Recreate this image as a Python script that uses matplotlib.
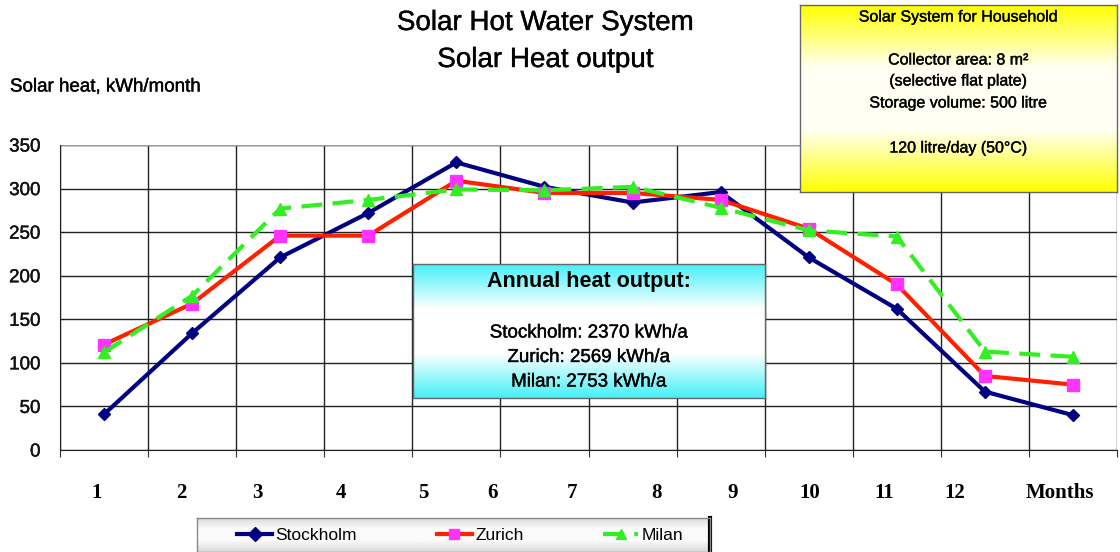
import numpy as np
import matplotlib
matplotlib.use("Agg")
import matplotlib.pyplot as plt
import matplotlib.patheffects as pe
from matplotlib.colors import LinearSegmentedColormap

# ---------------- data ----------------
months = list(range(1, 13))
stockholm = [41, 134, 221, 272, 330, 302, 284, 296, 221, 162, 67, 40]
zurich = [121, 168, 246, 246, 309, 295, 295, 287, 254, 190, 85, 75]
milan = [112, 177, 277, 287, 299, 298, 302, 278, 252, 245, 113, 107]
month_labels = ["1", "2", "3", "4", "5", "6", "7", "8", "9", "10", "11", "12", "Months"]
yticks = [0, 50, 100, 150, 200, 250, 300, 350]
annual = {"Stockholm": 2370, "Zurich": 2569, "Milan": 2753}

# ---------------- layout ----------------
W, H = 1120, 552
fig = plt.figure(figsize=(W / 100, H / 100), dpi=100)
plt.rcParams['font.family'] = ['Liberation Sans', 'DejaVu Sans']
thick = [pe.withStroke(linewidth=0.3, foreground="#111111")]

def fx(px):
    return px / W

def fy(py):
    return 1 - py / H

# main axes
ax = fig.add_axes([fx(60), fy(450), fx(1117) - fx(60), fy(145) - fy(450)])
x = np.arange(len(months))
ax.plot(x, stockholm, color="#000080", lw=3, marker="D", ms=6, mfc="#000080",
        mec="#000080", label="Stockholm", zorder=3)
ax.plot(x, zurich, color="#FF2000", lw=3, marker="s", ms=9, mfc="#FF33FF",
        mec="#FF33FF", label="Zurich", zorder=4)
ax.plot(x, milan, color="#33EE22", lw=3, ls=(0, (5, 2.5)), marker="^", ms=9,
        mfc="#33EE22", mec="#33EE22", label="Milan", zorder=5)

ax.set_xlim(-0.5, len(months) - 0.5)
ax.set_ylim(0, 350)
ax.set_yticks(yticks)
ax.set_yticklabels([str(v) for v in yticks], fontsize=13.5, color="#111111")
for t in ax.get_yticklabels():
    t.set_path_effects(thick)
ax.set_xticks(np.arange(-0.5, len(months) + 0.5, 1))
ax.set_xticklabels([])
ax.tick_params(axis="x", length=5, color="#333333")
ax.tick_params(axis="y", length=0, pad=14)
ax.grid(True, color="#222222", lw=1.0)
ax.set_axisbelow(True)
for s in ["top", "right"]:
    ax.spines[s].set_visible(False)
ax.spines["left"].set_color("#222222")
ax.spines["bottom"].set_color("#222222")
ax.axhline(350, color="#999999", lw=1.0, zorder=1)

# x labels (text boxes placed like original)
label_px = [97, 181, 257, 341, 423, 493, 572, 657, 733, 810, 884, 955, 1060]
for lab, px in zip(month_labels, label_px):
    fig.text(fx(px), fy(493), lab, ha="center", va="center", fontsize=15,
             fontweight="bold", family="Liberation Serif")

# titles
fig.text(fx(545), fy(23), "Solar Hot Water System", ha="center", va="center",
         fontsize=20, path_effects=thick)
fig.text(fx(545), fy(60), "Solar Heat output", ha="center", va="center",
         fontsize=20, path_effects=thick)
fig.text(fx(10), fy(87), "Solar heat, kWh/month", ha="left", va="center",
         fontsize=13.5, path_effects=thick)


def grad_box(x0, y0, x1, y1, c_edge, c_mid, edgecolor="#666666"):
    bax = fig.add_axes([fx(x0), fy(y1), fx(x1) - fx(x0), fy(y0) - fy(y1)], zorder=10)
    cmap = LinearSegmentedColormap.from_list("g", [c_edge, c_mid, c_mid, c_edge])
    g = np.linspace(0, 1, 256).reshape(-1, 1)
    bax.imshow(g, cmap=cmap, aspect="auto", extent=[0, 1, 0, 1])
    bax.set_xlim(0, 1)
    bax.set_ylim(0, 1)
    bax.set_xticks([])
    bax.set_yticks([])
    for s in bax.spines.values():
        s.set_color(edgecolor)
        s.set_linewidth(1.0)
    return bax


# yellow info box
yb = grad_box(800, 5, 1117, 192, "#FFFF00", "#FFFFF4")
ybh = 192 - 5
def yy(py):
    return 1 - (py - 5) / ybh
cx = 0.5
yb.text(cx, yy(17), "Solar System for Household", ha="center", va="center",
        fontsize=11.5, path_effects=thick)
yb.text(cx, yy(60), "Collector area: 8 m²", ha="center", va="center", fontsize=11.5,
        path_effects=thick)
yb.text(cx, yy(81), "(selective flat plate)", ha="center", va="center", fontsize=11.5,
        path_effects=thick)
yb.text(cx, yy(103), "Storage volume: 500 litre", ha="center", va="center",
        fontsize=11.5, path_effects=thick)
yb.text(cx, yy(148), "120 litre/day (50°C)", ha="center", va="center", fontsize=11.5,
        path_effects=thick)

# cyan annual box
cb = grad_box(413, 264, 765, 398, "#44F0F8", "#FFFFFF")
cbh = 398 - 264
def cy(py):
    return 1 - (py - 264) / cbh
cb.text(0.5, cy(281), "Annual heat output:", ha="center", va="center", fontsize=15.5,
        fontweight="bold")
lines = [f"{k}: {v} kWh/a" for k, v in annual.items()]
for i, ln in enumerate(lines):
    cb.text(0.5, cy(333 + 24.5 * i), ln, ha="center", va="center", fontsize=13.5,
            path_effects=thick)

# legend box
lb = grad_box(197, 518, 710, 552, "#D8D8D8", "#FBFBFB", edgecolor="#888888")
lb.plot([1, 1], [0, 1], color="black", lw=3, transform=lb.transAxes, clip_on=False)
handles, labels = ax.get_legend_handles_labels()
leg = lb.legend(handles, labels, loc="center", ncol=3, frameon=False, fontsize=12.5,
                columnspacing=4.6, handlelength=2.0, handletextpad=0.2,
                bbox_to_anchor=(0.513, 0.5))
for h in leg.legend_handles:
    h.set_markersize(7)

fig.savefig("out.png", dpi=100)
